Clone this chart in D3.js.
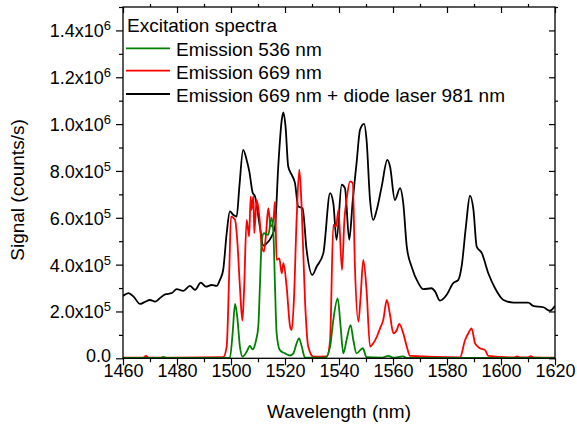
<!DOCTYPE html>
<html>
<head>
<meta charset="utf-8">
<script src="https://cdn.jsdelivr.net/npm/d3@7/dist/d3.min.js"></script>
<style>
  html, body { margin: 0; padding: 0; background: #fff; }
  svg { display: block; font-family: Arial, "Liberation Sans", sans-serif; }
</style>
</head>
<body>
<svg id="chart" width="577" height="425"></svg>
<script>
// Excitation spectra of the sample: signal (counts/s) vs excitation wavelength (nm)

const xTicks = [1460, 1480, 1500, 1520, 1540, 1560, 1580, 1600, 1620];
const yTicks = [0, 2e5, 4e5, 6e5, 8e5, 1.0e6, 1.2e6, 1.4e6];
const yTickLabels = ["0.0", "2.0x10|5", "4.0x10|5", "6.0x10|5", "8.0x10|5", "1.0x10|6", "1.2x10|6", "1.4x10|6"];

const legendTitle = "Excitation spectra";
const seriesNames = ["Emission 536 nm", "Emission 669 nm", "Emission 669 nm + diode laser 981 nm"];
const seriesColors = ["#008000", "#ff0000", "#000000"];

// Emission 536 nm
const wlGreen = [1460, 1468, 1474, 1475, 1476, 1490, 1499.6, 1500.6, 1501.5, 1502.3, 1503.3, 1504.3, 1505.8, 1507, 1508, 1509.3, 1510.1, 1510.7, 1511.4, 1512.2, 1513.8, 1515, 1515.7, 1516.3, 1516.9, 1518.1, 1520, 1521.9, 1523.1, 1524.3, 1525.2, 1526.2, 1527.4, 1535, 1536.7, 1537.9, 1539.5, 1540.6, 1541.6, 1542.8, 1544.3, 1545.3, 1546.5, 1548.8, 1550.2, 1556, 1558.3, 1560, 1563.7, 1565, 1580, 1600, 1620];
const sigGreen = [2e3, 2e3, 2e3, 6e3, 2e3, 2e3, 3e3, 107e3, 232e3, 178e3, 50e3, 7e3, 28e3, 53e3, 38e3, 78e3, 135e3, 306e3, 506e3, 534e3, 527e3, 600e3, 534e3, 306e3, 107e3, 35e3, 21e3, 12e3, 21e3, 64e3, 85e3, 50e3, 3e3, 3e3, 50e3, 164e3, 256e3, 135e3, 21e3, 78e3, 142e3, 78e3, 21e3, 43e3, 5e3, 3e3, 10e3, 3e3, 8e3, 2e3, 2e3, 2e3, 2e3];

// Emission 669 nm
const wlRed = [1460, 1467.5, 1468.5, 1469.5, 1480, 1497.1, 1498.4, 1499.4, 1500, 1501.5, 1502.3, 1503.3, 1504.2, 1504.8, 1505.8, 1506.7, 1507.3, 1507.6, 1508.3, 1508.6, 1509.5, 1510.5, 1511.4, 1512.2, 1513, 1513.8, 1514.7, 1515.7, 1516.3, 1516.9, 1517.9, 1518.8, 1519.4, 1520.6, 1521.9, 1522.5, 1523.3, 1524.3, 1525.3, 1526.2, 1527.4, 1528.6, 1530.5, 1535.5, 1536.7, 1537.9, 1538.9, 1539.8, 1541.1, 1542, 1542.8, 1544.1, 1545.1, 1545.9, 1547.2, 1548, 1549, 1550.2, 1551.5, 1552.7, 1554, 1555.2, 1556.4, 1557.7, 1558.9, 1560.1, 1561.4, 1562.3, 1563.8, 1565.1, 1566.3, 1584.8, 1586.7, 1587.9, 1589.1, 1590.4, 1592.2, 1594.1, 1595.3, 1605, 1606, 1607, 1610, 1611, 1612, 1620];
const sigRed = [3e3, 3e3, 10e3, 3e3, 3e3, 5e3, 50e3, 391e3, 605e3, 591e3, 506e3, 306e3, 161e3, 278e3, 591e3, 520e3, 691e3, 634e3, 691e3, 534e3, 676e3, 605e3, 477e3, 456e3, 534e3, 641e3, 562e3, 591e3, 669e3, 420e3, 427e3, 363e3, 406e3, 306e3, 135e3, 121e3, 249e3, 591e3, 805e3, 634e3, 249e3, 50e3, 7e3, 8e3, 78e3, 570e3, 562e3, 634e3, 377e3, 591e3, 676e3, 755e3, 748e3, 391e3, 156e3, 263e3, 420e3, 292e3, 50e3, 64e3, 92e3, 128e3, 164e3, 249e3, 185e3, 107e3, 121e3, 147e3, 107e3, 50e3, 10e3, 4e3, 78e3, 107e3, 128e3, 64e3, 43e3, 35e3, 10e3, 4e3, 8e3, 4e3, 4e3, 9e3, 4e3, 3e3];

// Emission 669 nm + diode laser 981 nm
const wlBlack = [1460, 1462, 1464, 1466.3, 1468, 1470, 1471.9, 1473.5, 1475.6, 1478, 1479.9, 1482.3, 1484.8, 1486.7, 1488.8, 1490.7, 1492.8, 1494.7, 1495.9, 1497.1, 1498.4, 1499.6, 1500.9, 1502.1, 1503.1, 1504.5, 1505.8, 1506.8, 1508, 1508.9, 1510.7, 1512, 1513.2, 1515, 1516.3, 1517.5, 1518.8, 1519.4, 1520.2, 1521.2, 1522.5, 1523.7, 1524.9, 1526.5, 1528, 1530.1, 1531.7, 1534.2, 1536.7, 1537.9, 1539.1, 1541, 1542.2, 1543.8, 1545.1, 1546.5, 1547.8, 1549.3, 1550.2, 1551.5, 1552.7, 1554, 1555.8, 1557.9, 1558.9, 1560.7, 1562.6, 1563.8, 1565.1, 1566.9, 1569.4, 1571.2, 1574.3, 1575.6, 1577.4, 1579.9, 1582.3, 1584.2, 1585.4, 1587, 1588.5, 1589.8, 1591, 1592.9, 1595.3, 1597.8, 1600.9, 1604.6, 1610.1, 1611.9, 1615.7, 1618.1, 1620];
const sigBlack = [266e3, 278e3, 262e3, 232e3, 240e3, 249e3, 242e3, 255e3, 273e3, 278e3, 295e3, 288e3, 309e3, 292e3, 323e3, 306e3, 313e3, 309e3, 335e3, 377e3, 534e3, 627e3, 612e3, 605e3, 733e3, 890e3, 847e3, 797e3, 708e3, 691e3, 562e3, 481e3, 491e3, 520e3, 562e3, 819e3, 1018e3, 1050e3, 990e3, 819e3, 783e3, 748e3, 648e3, 641e3, 463e3, 356e3, 391e3, 449e3, 705e3, 662e3, 506e3, 741e3, 727e3, 506e3, 676e3, 833e3, 976e3, 1001e3, 933e3, 676e3, 591e3, 634e3, 733e3, 847e3, 819e3, 676e3, 727e3, 662e3, 477e3, 391e3, 321e3, 295e3, 299e3, 285e3, 246e3, 271e3, 321e3, 335e3, 391e3, 562e3, 694e3, 634e3, 477e3, 449e3, 363e3, 299e3, 249e3, 238e3, 238e3, 224e3, 218e3, 203e3, 224e3];

const svg = d3.select("#chart");
const plot = { left: 123, right: 555, top: 7, bottom: 358.3 };

const x = d3.scaleLinear().domain([1460, 1620]).range([plot.left, plot.right]);
const y = d3.scaleLinear().domain([0, 1.5e6]).range([plot.bottom, plot.top]);

// clip so traces stay inside the frame
svg.append("clipPath").attr("id", "clip")
  .append("rect")
  .attr("x", plot.left).attr("y", plot.top)
  .attr("width", plot.right - plot.left).attr("height", plot.bottom - plot.top);

const line = d3.line()
  .x(d => x(d[0]))
  .y(d => y(d[1]))
  .curve(d3.curveMonotoneX);

const series = [
  { wl: wlGreen, sig: sigGreen, color: seriesColors[0] },
  { wl: wlRed, sig: sigRed, color: seriesColors[1] },
  { wl: wlBlack, sig: sigBlack, color: seriesColors[2] }
];

const traces = svg.append("g").attr("clip-path", "url(#clip)");
// draw black first, then red, then green on top
[2, 1, 0].forEach(i => {
  const s = series[i];
  traces.append("path")
    .datum(d3.zip(s.wl, s.sig))
    .attr("fill", "none")
    .attr("stroke", s.color)
    .attr("stroke-width", 1.8)
    .attr("stroke-linejoin", "round")
    .attr("d", line);
});

// axes
const axisColor = "#000";
const minorX = d3.range(1460, 1621, 10).filter(v => !xTicks.includes(v));
const minorY = d3.range(1e5, 1.5e6 + 1, 2e5);

const gx = svg.append("g").attr("transform", `translate(0,${plot.bottom})`)
  .call(d3.axisBottom(x).tickValues(xTicks).tickSize(7).tickPadding(4).tickFormat(d3.format("d")));
gx.select(".domain").remove();
gx.selectAll("text").attr("font-size", 18).attr("fill", "#000").attr("dy", null).attr("y", 19);

svg.append("g").attr("transform", `translate(0,${plot.bottom})`)
  .call(d3.axisBottom(x).tickValues(minorX).tickSize(4).tickFormat(""))
  .select(".domain").remove();

// top axis (mirror ticks)
const gt = svg.append("g").attr("transform", `translate(0,${plot.top})`)
  .call(d3.axisTop(x).tickValues(xTicks).tickSize(-6).tickFormat(""));
gt.select(".domain").remove();
svg.append("g").attr("transform", `translate(0,${plot.top})`)
  .call(d3.axisTop(x).tickValues(minorX).tickSize(3).tickFormat(""))
  .select(".domain").remove();

const gy = svg.append("g").attr("transform", `translate(${plot.left},0)`)
  .call(d3.axisLeft(y).tickValues(yTicks).tickSize(7).tickFormat(""));
gy.select(".domain").remove();
svg.append("g").attr("transform", `translate(${plot.left},0)`)
  .call(d3.axisLeft(y).tickValues(minorY).tickSize(4).tickFormat(""))
  .select(".domain").remove();

// right axis (mirror ticks)
const gr = svg.append("g").attr("transform", `translate(${plot.right},0)`)
  .call(d3.axisRight(y).tickValues(yTicks).tickSize(-6).tickFormat(""));
gr.select(".domain").remove();
svg.append("g").attr("transform", `translate(${plot.right},0)`)
  .call(d3.axisRight(y).tickValues(minorY).tickSize(3).tickFormat(""))
  .select(".domain").remove();

svg.selectAll(".tick line").attr("stroke", axisColor).attr("stroke-width", 1.2);

// y tick labels with superscript exponent
const yl = svg.append("g").attr("font-size", 18).attr("fill", "#000");
yTicks.forEach((v, i) => {
  const parts = yTickLabels[i].split("|");
  const t = yl.append("text")
    .attr("x", 111)
    .attr("y", y(v) + (parts.length > 1 ? 7 : 4))
    .attr("text-anchor", "end");
  t.append("tspan").text(parts[0]);
  if (parts.length > 1) {
    t.append("tspan").attr("font-size", 13).attr("dy", -7).text(parts[1]);
  }
});

// frame
svg.append("rect")
  .attr("x", plot.left).attr("y", plot.top)
  .attr("width", plot.right - plot.left).attr("height", plot.bottom - plot.top)
  .attr("fill", "none").attr("stroke", "#000").attr("stroke-width", 1.3);

// axis titles
svg.append("text")
  .attr("x", (plot.left + plot.right) / 2).attr("y", 418.3)
  .attr("text-anchor", "middle").attr("font-size", 19).attr("fill", "#000")
  .text("Wavelength (nm)");

svg.append("text")
  .attr("transform", "translate(24,190) rotate(-90)")
  .attr("text-anchor", "middle").attr("font-size", 19).attr("fill", "#000")
  .text("Signal (counts/s)");

// legend
const lg = svg.append("g").attr("font-size", 19).attr("fill", "#000");
lg.append("text").attr("x", 127).attr("y", 31.7).text(legendTitle);
const legendRows = [
  { lineY: 48.3, textY: 56 },
  { lineY: 70.7, textY: 78.7 },
  { lineY: 94, textY: 101.7 }
];
seriesNames.forEach((name, i) => {
  lg.append("line")
    .attr("x1", 126).attr("x2", 170)
    .attr("y1", legendRows[i].lineY).attr("y2", legendRows[i].lineY)
    .attr("stroke", seriesColors[i]).attr("stroke-width", 1.8);
  lg.append("text").attr("x", 176).attr("y", legendRows[i].textY).text(name);
});
</script>
</body>
</html>
